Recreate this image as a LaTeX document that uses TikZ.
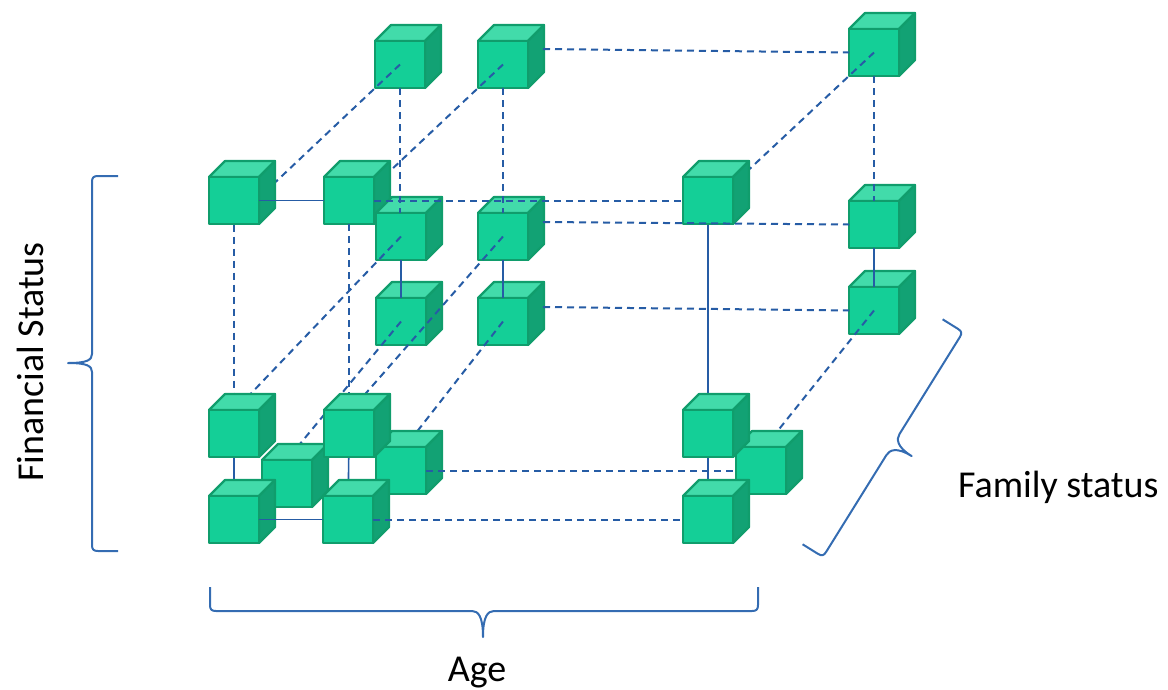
\documentclass[tikz,border=0pt]{standalone}
\usepackage{fontspec}
\setmainfont{Carlito}
\definecolor{cubefrontc}{RGB}{20,207,151}
\definecolor{cubetopc}{RGB}{66,219,170}
\definecolor{cubesidec}{RGB}{18,162,116}
\definecolor{cubeedge}{RGB}{16,157,108}
\definecolor{linkblue}{RGB}{38,92,165}
\definecolor{braceblue}{RGB}{52,108,178}

\tikzset{
  cubeface/.style={draw=cubeedge, line width=2.2pt, line join=round},
  cubeslot/.style={rectangle, minimum width=50pt, minimum height=47pt,
    inner sep=0pt, outer sep=0pt, anchor=north west},
  cubefront/.style={cubeface, fill=cubefrontc},
  cubetop/.style={cubeface, fill=cubetopc},
  cubeside/.style={cubeface, fill=cubesidec},
  solidlink/.style={draw=linkblue, line width=1.6pt},
  dashlink/.style={draw=linkblue, line width=2pt, dash pattern=on 7pt off 5pt},
  curly/.style={draw=braceblue, line width=2pt, line join=round},
  axislabel/.style={font=\fontsize{38}{46}\selectfont, text=black, inner sep=0pt},
}

% reserve a cube's front face: name, x and y of its top-left corner
\newcommand\placecube[3]{\path (#2,#3) node[cubeslot] (#1) {};}
% draw the cube whose front face was reserved under that name
\newcommand\greencube[1]{%
  \filldraw[cubetop] (#1.north west) -- ++(16,-16) -- ++(50,0) -- ++(-16,16) -- cycle;
  \filldraw[cubeside] (#1.north east) -- ++(16,-16) -- ++(0,47) -- ++(-16,16) -- cycle;
  \filldraw[cubefront] (#1.north west) rectangle (#1.south east);
}

\begin{document}
\begin{tikzpicture}[x=1pt, y=-1pt]
\useasboundingbox (0,0) rectangle (1168,689);

\placecube{A1}{375}{41}
\placecube{A2}{478}{41}
\placecube{A3}{849}{29}
\placecube{B1}{209}{177}
\placecube{B2}{324}{177}
\placecube{B3}{683}{177}
\placecube{C1}{376}{213}
\placecube{C2}{478}{213}
\placecube{C3}{849}{201}
\placecube{D1}{376}{298}
\placecube{D2}{478}{298}
\placecube{D3}{849}{287}
\placecube{E1}{209}{410}
\placecube{E2}{324}{410}
\placecube{E3}{683}{410}
\placecube{F1}{209}{496}
\placecube{F2}{323}{496}
\placecube{F3}{683}{496}
\placecube{G1}{262}{460}
\placecube{G2}{376}{447}
\placecube{G3}{736}{447}

% rear cubes
\greencube{A1}
\greencube{A2}
\greencube{A3}
\greencube{C2}
\greencube{C3}
\greencube{D1}
\greencube{D2}
\greencube{D3}
\greencube{B2}
\greencube{C1}

% links running behind the front cubes
\draw[dashlink] (A1.center) -- ([shift={(32,-9.5)}]B1.center);
\draw[dashlink] (A2.center) -- ([shift={(41,-29.5)}]B2.center);
\draw[dashlink] (A3.center) -- ([shift={(33,-23.5)}]B3.center);
\draw[dashlink] (C1.center) -- ([shift={(6,-28.5)}]E1.center);
\draw[dashlink] (C2.center) -- ([shift={(11,-33.5)}]E2.center);
\draw[dashlink] (D1.center) -- ([shift={(8,-33.5)}]G1.center);
\draw[dashlink] (D2.center) -- ([shift={(11,-32.5)}]G2.center);
\draw[dashlink] (D3.center) -- ([shift={(11,-32.5)}]G3.center);
\draw[dashlink] (B1.center) -- (E1.center);
\draw[dashlink] (B2.south) -- (B2.south |- E2.center);
\draw[solidlink] (B3.center) -- (E3.center);
\draw[solidlink] (E1.center) -- (F1.center);
\draw[solidlink] (E2.center) -- (F2.center);
\draw[solidlink] (E3.center) -- (F3.center);

% front cubes
\greencube{G1}
\greencube{G2}
\greencube{G3}
\greencube{B1}
\greencube{B3}
\greencube{E1}
\greencube{E2}
\greencube{E3}
\greencube{F1}
\greencube{F2}
\greencube{F3}

% links drawn over the cubes
\draw[dashlink] ([shift={(40,-15.5)}]A2.center) -- (A3.west);
\draw[dashlink] (A1.south) -- (A1.south |- C1.north);
\draw[dashlink] (A2.south) -- (A2.south |- C2.north);
\draw[dashlink] (A3.south) -- (A3.south |- C3.north);
\draw[solidlink] (C1.south) -- (C1.south |- D1.north);
\draw[solidlink] (C2.south) -- (C2.south |- D2.north);
\draw[solidlink] (C3.south) -- (C3.south |- D3.north);
\draw[solidlink] (B1.east) -- (B2.west);
\draw[dashlink] (B2.east) -- (B3.west);
\draw[dashlink] ([shift={(40,-14.5)}]C2.center) -- (C3.west);
\draw[dashlink] ([shift={(40,-14.5)}]D2.center) -- (D3.west);
\draw[solidlink] (F1.east) -- (F2.west);
\draw[dashlink] (F2.east) -- (F3.west);
\draw[dashlink] (G2.east) -- (G3.west);

% braces
\draw[curly] (118,176) -- (98,176) .. controls (93.5,176) and (92,177.5) .. (92,182)
  -- (92,354) .. controls (92,360) and (87,363) .. (68,363)
  .. controls (87,363) and (92,366) .. (92,372)
  -- (92,545) .. controls (92,549.5) and (93.5,551) .. (98,551) -- (118,551);
\draw[curly] (210,587) -- (210,605) .. controls (210,609.5) and (211.5,611) .. (216,611)
  -- (472,611) .. controls (478,611) and (483,616) .. (483,637)
  .. controls (483,616) and (488,611) .. (494,611)
  -- (752,611) .. controls (756.5,611) and (758,609.5) .. (758,605) -- (758,587);
\begin{scope}[shift={(963,332)}, rotate=238.1]
\draw[curly] (0,24) -- (0,6) .. controls (0,1.5) and (1.5,0) .. (6,0)
  -- (120,0) .. controls (126,0) and (132.5,-4) .. (132.5,-22)
  .. controls (132.5,-4) and (139,0) .. (145,0)
  -- (259,0) .. controls (263.5,0) and (265,1.5) .. (265,6) -- (265,24);
\end{scope}

% axis labels
\node[axislabel, rotate=90] (fin) at (30,362) {Financial Status};
\node[axislabel, anchor=base west] (fam) at (958,497) {Family status};
\node[axislabel, anchor=base] (age) at (477,681) {Age};
\end{tikzpicture}
\end{document}
